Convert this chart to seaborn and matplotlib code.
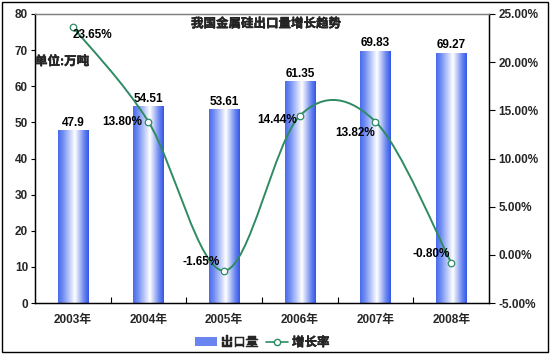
import numpy as np
import matplotlib
matplotlib.use('Agg')
import matplotlib.pyplot as plt
import matplotlib.patheffects as pe
import seaborn as sns
from matplotlib.path import Path
from matplotlib.patches import PathPatch, Rectangle
from matplotlib.colors import LinearSegmentedColormap
from matplotlib.lines import Line2D

years = ['2003年', '2004年', '2005年', '2006年', '2007年', '2008年']
export = [47.9, 54.51, 53.61, 61.35, 69.83, 69.27]
growth = [23.65, 13.80, -1.65, 14.44, 13.82, -0.80]
growth_labels = ['23.65%', '13.80%', '-1.65%', '14.44%', '13.82%', '-0.80%']

sns.set_theme(style='white')
plt.rcParams['font.family'] = ['Liberation Sans', 'Noto Sans CJK SC', 'DejaVu Sans']
plt.rcParams['font.weight'] = 'bold'
plt.rcParams['axes.unicode_minus'] = False

green = '#2E8B62'
bar_cmap = LinearSegmentedColormap.from_list(
    'bar', [(0, '#4A6CEE'), (0.15, '#6F8CF2'), (0.55, '#FFFFFF'), (0.85, '#6A86F0'), (1, '#3558E8')])
bold_cjk = [pe.withStroke(linewidth=0.3, foreground='black')]

fig = plt.figure(figsize=(5.5, 3.55), dpi=100)
ax = fig.add_axes([35 / 550, 52 / 355, 454 / 550, 289 / 355])

sns.barplot(x=years, y=export, width=0.4, color='#6A85F0', ax=ax, zorder=2)

# gradient fill on each bar
grad = np.linspace(0, 1, 64).reshape(1, -1)
for p in ax.patches:
    x0, y0 = p.get_x(), p.get_y()
    w, h = p.get_width(), p.get_height()
    im = ax.imshow(grad, cmap=bar_cmap, aspect='auto',
                   extent=[x0, x0 + w, y0, y0 + h], zorder=2)
    im.set_clip_path(p)
    p.set_facecolor('none')
    p.set_edgecolor('none')

ax.bar_label(ax.containers[0], labels=['%g' % v for v in export],
             padding=1, fontsize=8.5, fontweight='bold', color='black')

ax.set_xlim(-0.5, len(years) - 0.5)
ax.set_ylim(0, 80)
ax.set_yticks(range(0, 81, 10))
ax.set_xticks(range(len(years)))
ax.set_xticklabels(years)
ax.set_xticks(np.arange(0.5, len(years) - 0.5, 1), minor=True)
ax.tick_params(axis='x', which='major', length=0, pad=8, labelsize=8.5)
ax.tick_params(axis='x', which='minor', direction='in', length=4, width=0.8, color='black', bottom=True)
ax.tick_params(axis='y', left=True, direction='out', length=3, width=0.8, labelsize=8.5, pad=2, color='black')
ax.set_xlabel('')
ax.set_ylabel('')

ax2 = ax.twinx()
ax2.set_ylim(-5, 25)
ax2.set_yticks(range(-5, 26, 5))
ax2.set_yticklabels(['%.2f%%' % v for v in range(-5, 26, 5)])
ax2.tick_params(axis='y', right=True, direction='out', length=4, width=0.8, labelsize=8.5, pad=3, color='black')

for a in (ax, ax2):
    for s in ('left', 'right', 'bottom'):
        a.spines[s].set_color('black')
        a.spines[s].set_linewidth(0.9)
    a.spines['top'].set_color('#808080')
    a.spines['top'].set_linewidth(0.9)

# smoothed growth line (Catmull-Rom style bezier through the points)
xs = np.arange(len(growth), dtype=float)
pts = np.column_stack([xs, growth])
verts = [tuple(pts[0])]
codes = [Path.MOVETO]
n = len(pts)
for i in range(n - 1):
    p0 = pts[max(i - 1, 0)]
    p1 = pts[i]
    p2 = pts[i + 1]
    p3 = pts[min(i + 2, n - 1)]
    c1 = p1 + (p2 - p0) / 6
    c2 = p2 - (p3 - p1) / 6
    verts += [tuple(c1), tuple(c2), tuple(p2)]
    codes += [Path.CURVE4] * 3
ax2.add_patch(PathPatch(Path(verts, codes), facecolor='none', edgecolor=green, lw=1.4, zorder=3))
sns.scatterplot(x=xs, y=growth, ax=ax2, marker='o', s=22, color='white',
                edgecolor=green, linewidth=0.9, zorder=4)

offsets = [(20, -8, 'center'), (-6, 0, 'right'), (-4, 9, 'right'),
           (-3, -4, 'right'), (-20, -11, 'center'), (-1, 9, 'right')]
for x, y, lab, (dx, dy, ha) in zip(xs, growth, growth_labels, offsets):
    ax2.annotate(lab, (x, y), xytext=(dx * 0.72, dy * 0.72), textcoords='offset points',
                 ha=ha, va='center', fontsize=8.5, fontweight='bold', color='black', zorder=5)

fig.text(266 / 550, 1 - 24 / 355, '我国金属硅出口量增长趋势', ha='center', va='center',
         fontsize=9, fontweight='bold', path_effects=bold_cjk)
fig.text(35 / 550, 1 - 62 / 355, '单位:万吨', ha='left', va='center',
         fontsize=9, fontweight='bold', path_effects=bold_cjk)

handles = [Rectangle((0, 0), 1, 1, facecolor='#6A85F0', edgecolor='none'),
           Line2D([], [], color=green, lw=1.2, marker='o', ms=4.5, mfc='white', mec=green)]
leg = fig.legend(handles, ['出口量', '增长率'], loc='center', bbox_to_anchor=(262 / 550, 1 - 343 / 355),
                 ncol=2, frameon=False, fontsize=9, handlelength=1.8, handletextpad=0.3,
                 columnspacing=0.6, borderpad=0)
for t in leg.get_texts():
    t.set_path_effects(bold_cjk)

fig.patches.append(Rectangle((2 / 550, 3 / 355), 546 / 550, 350 / 355, transform=fig.transFigure,
                             fill=False, edgecolor='black', lw=1))

fig.savefig('out.png', dpi=100)
